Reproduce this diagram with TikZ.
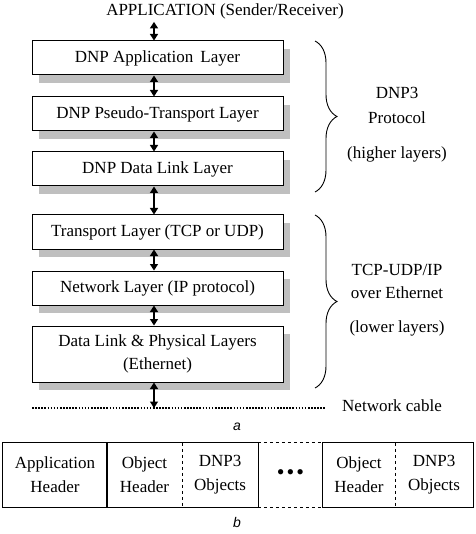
\documentclass[tikz,border=0pt]{standalone}
\usepackage{fontspec}
\setmainfont{Liberation Serif}
\newfontfamily\labfont{Liberation Sans}
\usetikzlibrary{shadows,decorations.pathreplacing,arrows.meta}
\begin{document}
\begin{tikzpicture}[x=1pt,y=-1pt,
  txt/.style={font=\fontsize{17}{20}\selectfont, inner sep=0pt},
  layer/.style={txt, draw, line width=1pt, fill=white, minimum width=251pt, align=center,
     drop shadow={shadow xshift=7pt, shadow yshift=-8pt, fill=black!25, opacity=1}},
  link/.style={{Triangle[length=6.5pt,width=8pt]}-{Triangle[length=6.5pt,width=8pt]}, line width=1.4pt},
  brc/.style={decorate, decoration={brace, amplitude=22pt, aspect=0.5}, line width=0.9pt},
  cell/.style={txt, align=center, minimum height=64pt},
  sub/.style={font=\labfont\itshape\fontsize{14}{16}\selectfont, inner sep=0pt}
]
\useasboundingbox (0,0) rectangle (475,534);

\node[txt] (app) at (225,11) {APPLICATION (Sender/Receiver)};

\node[layer, minimum height=34pt] (l1) at (157.5,58) {DNP Application\, Layer};
\node[layer, minimum height=34pt] (l2) at (157.5,114) {DNP Pseudo-Transport Layer};
\node[layer, minimum height=34pt] (l3) at (157.5,169) {DNP Data Link Layer};
\node[layer, minimum height=34pt] (l4) at (157.5,232) {Transport Layer (TCP or UDP)};
\node[layer, minimum height=34pt] (l5) at (157.5,288) {Network Layer (IP protocol)};
\node[layer, minimum height=56pt] (l6) at (157.5,354) {Data Link \& Physical Layers\\[3pt](Ethernet)};

\coordinate (cab) at (154,408);
\coordinate (cabL) at (32,408);
\coordinate (cabR) at (326,408);
\draw[dash pattern=on 1.6pt off 1.5pt, line width=1.6pt] (cabL) -- (cabR);
\node[txt, anchor=west] (cable) at (342,406) {Network cable};

\draw[link] (app.south -| cab) ++(0,3) -- (l1.north -| cab);
\draw[link] (l1.south -| cab) -- (l2.north -| cab);
\draw[link] (l2.south -| cab) -- (l3.north -| cab);
\draw[link] (l3.south -| cab) -- (l4.north -| cab);
\draw[link] (l4.south -| cab) -- (l5.north -| cab);
\draw[link] (l5.south -| cab) -- (l6.north -| cab);
\draw[link] (l6.south -| cab) -- (cab);

\coordinate (b1t) at (315,41);
\coordinate (b1b) at (315,192);
\coordinate (b2t) at (315,215);
\coordinate (b2b) at (315,388);
\draw[brc] (b1t) -- (b1b);
\draw[brc] (b2t) -- (b2b);

\node[txt] (p1) at (397,93) {DNP3};
\node[txt] (p2) at (397,118) {Protocol};
\node[txt] (p3) at (397,154) {(higher layers)};
\node[txt] (q1) at (397,270) {TCP-UDP/IP};
\node[txt] (q2) at (397,293) {over Ethernet};
\node[txt] (q3) at (397,328) {(lower layers)};

\node[sub] (a) at (237,427) {a};

\node[cell, minimum width=104pt] (h1) at (55,475) {Application\\[4pt]Header};
\node[cell, minimum width=75pt] (oh1) at (144.5,475) {Object\\[4pt]Header};
\node[cell, minimum width=76pt] (ob1) at (220,475) {DNP3\\[4pt]Objects};
\node[cell, minimum width=65pt, font=\fontsize{22}{24}\selectfont] (dots) at (290.5,475) {\textbullet\hspace{2pt}\textbullet\hspace{2pt}\textbullet};
\node[cell, minimum width=72pt] (oh2) at (359,475) {Object\\[4pt]Header};
\node[cell, minimum width=78pt] (ob2) at (434,475) {DNP3\\[4pt]Objects};

\draw[line width=1pt] (h1.north west) rectangle (h1.south east);
\draw[line width=1pt] (oh1.north west) rectangle (ob1.south east);
\draw[line width=1pt] (oh2.north west) rectangle (ob2.south east);
\draw[dashed, line width=0.8pt] (oh1.north east) -- (oh1.south east);
\draw[dashed, line width=0.8pt] (oh2.north east) -- (oh2.south east);
\draw[dashed, line width=1pt] (dots.north west) -- (dots.north east);
\draw[dashed, line width=1pt] (dots.south west) -- (dots.south east);

\node[sub] (b) at (237,522) {b};
\end{tikzpicture}
\end{document}
